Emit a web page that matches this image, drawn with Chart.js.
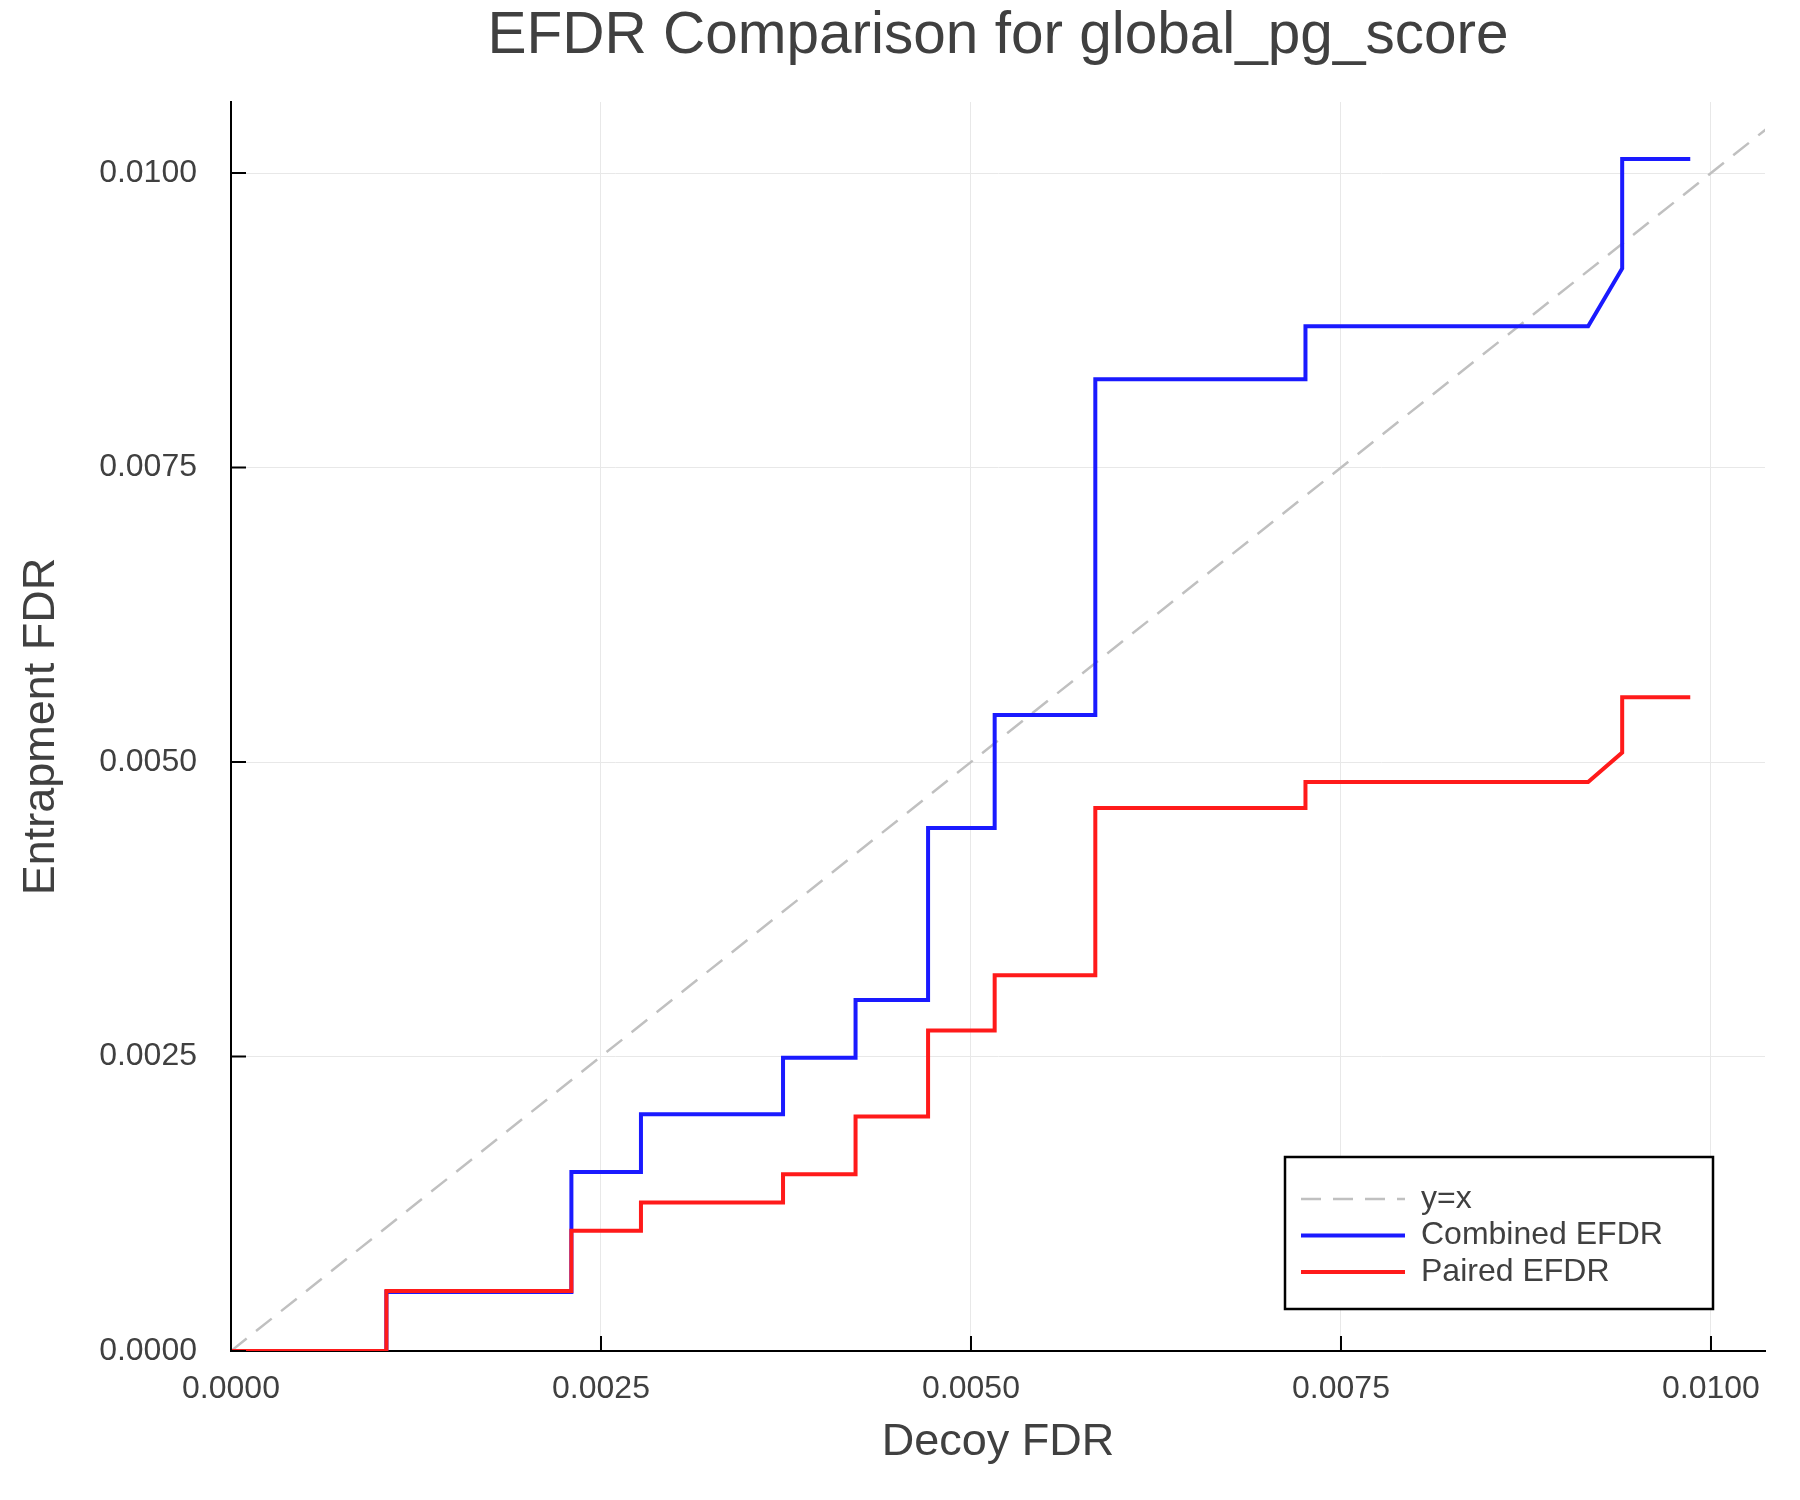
<!DOCTYPE html>
<html>
<head>
<meta charset="utf-8">
<script src="https://cdn.jsdelivr.net/npm/chart.js@4"></script>
<style>
  body { margin: 0; background: #fff; }
  #wrap { width: 1800px; height: 1500px; }
</style>
</head>
<body>
<div id="wrap"><canvas id="efdrChart" width="1800" height="1500"></canvas></div>
<script>
// decoy FDR values (shared by both curves; repeated x = vertical step)
const decoyFdr = [0, 0.00105, 0.00105, 0.0023, 0.0023, 0.00277, 0.00277, 0.00373, 0.00373,
  0.00422, 0.00422, 0.00471, 0.00471, 0.00516, 0.00516, 0.00584, 0.00584, 0.00726, 0.00726,
  0.00917, 0.0094, 0.0094, 0.00986];
const combinedEfdr = [0, 0, 0.0005, 0.0005, 0.00152, 0.00152, 0.00201, 0.00201, 0.00249,
  0.00249, 0.00298, 0.00298, 0.00444, 0.00444, 0.0054, 0.0054, 0.00825, 0.00825, 0.0087,
  0.0087, 0.00919, 0.01012, 0.01012];
const pairedEfdr = [0, 0, 0.00051, 0.00051, 0.00102, 0.00102, 0.00126, 0.00126, 0.0015,
  0.0015, 0.00199, 0.00199, 0.00272, 0.00272, 0.00319, 0.00319, 0.00461, 0.00461, 0.00483,
  0.00483, 0.00508, 0.00555, 0.00555];
const identityLine = [0, 0.01037];
const xTicks = [0, 0.0025, 0.005, 0.0075, 0.01];
const yTicks = [0, 0.0025, 0.005, 0.0075, 0.01];

const titleText = "EFDR Comparison for global_pg_score";
const FONT = '"Liberation Sans", Arial, sans-serif';
const TEXT_COLOR = "#404040";

const toPoints = (xs, ys) => xs.map((x, i) => ({ x: x, y: ys[i] }));

// title centred over the plot area
const titlePlugin = {
  id: "plotTitle",
  afterDraw(chart) {
    const ctx = chart.ctx;
    const area = chart.chartArea;
    ctx.save();
    ctx.font = "58.5px " + FONT;
    ctx.fillStyle = TEXT_COLOR;
    ctx.textAlign = "center";
    ctx.textBaseline = "alphabetic";
    ctx.fillText(titleText, (area.left + area.right) / 2, 53);
    ctx.restore();
  },
};

// inward tick marks like the original
const tickMarks = {
  id: "tickMarks",
  afterDraw(chart) {
    const ctx = chart.ctx;
    const { left, bottom } = chart.chartArea;
    const xs = chart.scales.x;
    const ys = chart.scales.y;
    ctx.save();
    ctx.strokeStyle = "#000";
    ctx.lineWidth = 2;
    ctx.beginPath();
    xTicks.forEach((v) => {
      const px = xs.getPixelForValue(v);
      ctx.moveTo(px, bottom);
      ctx.lineTo(px, bottom - 15);
    });
    yTicks.forEach((v) => {
      const py = ys.getPixelForValue(v);
      ctx.moveTo(left, py);
      ctx.lineTo(left + 15, py);
    });
    ctx.stroke();
    ctx.restore();
  },
};

// boxed legend in the lower right corner
const boxLegend = {
  id: "boxLegend",
  afterDraw(chart) {
    const ctx = chart.ctx;
    const x0 = 1285, y0 = 1157, w = 428, h = 152;
    ctx.save();
    ctx.fillStyle = "#fff";
    ctx.fillRect(x0, y0, w, h);
    ctx.strokeStyle = "#000";
    ctx.lineWidth = 2.5;
    ctx.strokeRect(x0, y0, w, h);
    ctx.font = "32px " + FONT;
    ctx.textBaseline = "middle";
    chart.data.datasets.forEach((ds, i) => {
      const y = y0 + 42 + i * 36.5;
      ctx.strokeStyle = ds.borderColor;
      ctx.lineWidth = ds.borderWidth;
      ctx.setLineDash(ds.borderDash || []);
      ctx.beginPath();
      ctx.moveTo(x0 + 16, y);
      ctx.lineTo(x0 + 120, y);
      ctx.stroke();
      ctx.setLineDash([]);
      ctx.fillStyle = TEXT_COLOR;
      ctx.fillText(ds.label, x0 + 136, y);
    });
    ctx.restore();
  },
};

new Chart(document.getElementById("efdrChart"), {
  type: "line",
  data: {
    datasets: [
      {
        label: "y=x",
        data: toPoints(identityLine, identityLine),
        borderColor: "#c0c0c0",
        borderWidth: 2.5,
        borderDash: [20, 12],
        order: 3,
      },
      {
        label: "Combined EFDR",
        data: toPoints(decoyFdr, combinedEfdr),
        borderColor: "#1a1aff",
        borderWidth: 4,
        order: 2,
      },
      {
        label: "Paired EFDR",
        data: toPoints(decoyFdr, pairedEfdr),
        borderColor: "#ff1a1a",
        borderWidth: 4,
        order: 1,
      },
    ],
  },
  options: {
    responsive: false,
    animation: false,
    devicePixelRatio: 1,
    layout: { padding: { top: 102, right: 35, left: 0, bottom: 0 } },
    elements: { point: { radius: 0 }, line: { tension: 0, fill: false } },
    plugins: { legend: { display: false }, title: { display: false }, tooltip: { enabled: false } },
    scales: {
      x: {
        type: "linear",
        min: 0,
        max: 0.010365,
        afterBuildTicks: (s) => { s.ticks = xTicks.map((v) => ({ value: v })); },
        afterFit: (s) => { s.height = 149; },
        ticks: {
          padding: 19,
          color: TEXT_COLOR,
          font: { family: FONT, size: 32 },
          maxRotation: 0,
          callback: (v) => v.toFixed(4),
        },
        grid: { color: "#e8e8e8", lineWidth: 1, drawTicks: false },
        border: { display: true, color: "#000", width: 2 },
        title: {
          display: true,
          text: "Decoy FDR",
          color: TEXT_COLOR,
          font: { family: FONT, size: 45 },
          padding: { top: 0, bottom: 30 },
        },
      },
      y: {
        type: "linear",
        min: 0,
        max: 0.010603,
        afterBuildTicks: (s) => { s.ticks = yTicks.map((v) => ({ value: v })); },
        afterFit: (s) => { s.width = 231; },
        ticks: {
          padding: 34,
          color: TEXT_COLOR,
          font: { family: FONT, size: 32 },
          callback: (v) => v.toFixed(4),
        },
        grid: { color: "#e8e8e8", lineWidth: 1, drawTicks: false },
        border: { display: true, color: "#000", width: 2 },
        title: {
          display: true,
          text: "Entrapment FDR",
          color: TEXT_COLOR,
          font: { family: FONT, size: 45 },
          padding: { top: 15, bottom: 0 },
        },
      },
    },
  },
  plugins: [titlePlugin, tickMarks, boxLegend],
});
</script>
</body>
</html>
